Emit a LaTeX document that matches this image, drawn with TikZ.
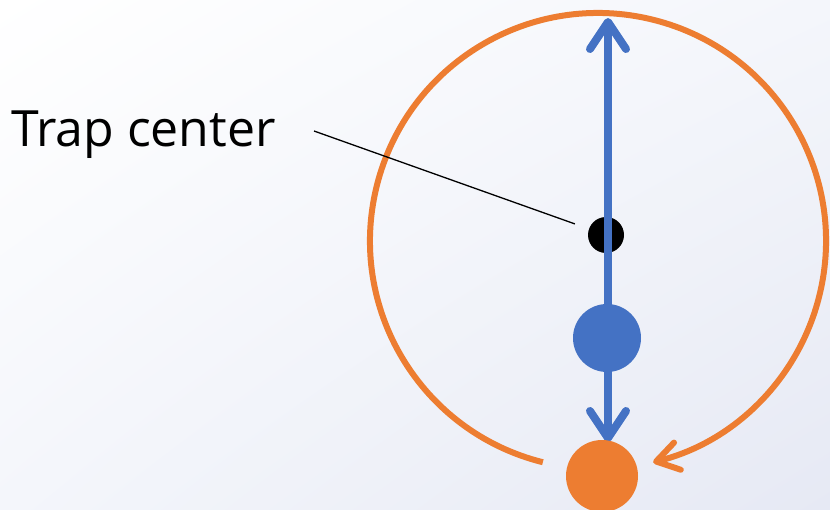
\documentclass[tikz,border=0pt]{standalone}
\usepackage{fontspec}
\setmainfont{Open Sans}
\usetikzlibrary{arrows.meta,shadings}
\definecolor{offorange}{RGB}{237,125,49}
\definecolor{offblue}{RGB}{68,114,196}
\definecolor{bgend}{RGB}{230,233,244}
\definecolor{bgmid}{RGB}{244,246,251}
\begin{document}
\begin{tikzpicture}[x=1pt,y=1pt,
  dot/.style={circle, inner sep=0pt, draw=none},
  orangearc/.style={draw=offorange, line width=6pt,
    -{Straight Barb[length=22pt,width=28pt,round]}},
  bluearrow/.style={draw=offblue, line width=8pt,
    {Straight Barb[length=27pt,width=36pt,round]}-{Straight Barb[length=27pt,width=36pt,round]}},
  pointer/.style={draw=black, line width=1.3pt},
  lbl/.style={font=\fontsize{50}{58}\selectfont, inner sep=0pt, anchor=base west}]
\useasboundingbox (0,0) rectangle (830,-510);
\shade[upper left=white, upper right=bgmid, lower left=bgmid, lower right=bgend] (0,0) rectangle (830,-510);
% orbit
\coordinate (orbitcenter) at (598,-241);
\draw[orangearc] ([shift={(256:228)}]orbitcenter) arc[start angle=256, end angle=-76, radius=228];
% label and pointer
\node[lbl] (label) at (11,-147) {Trap center};
\coordinate (lstart) at (314,-131);
\node[dot, fill=black, minimum size=36pt] (center) at (606,-235) {};
\draw[pointer, shorten >=33pt] (lstart) -- (center.center);
% blue arrow
\coordinate (top) at (608,-18);
\coordinate (bot) at (608,-442);
\draw[bluearrow] (top) -- (bot);
\node[dot, fill=offblue, minimum size=68pt] (blue) at (607,-338) {};
\node[dot, fill=offorange, minimum size=72pt] (orange) at (602,-476) {};
\end{tikzpicture}
\end{document}
